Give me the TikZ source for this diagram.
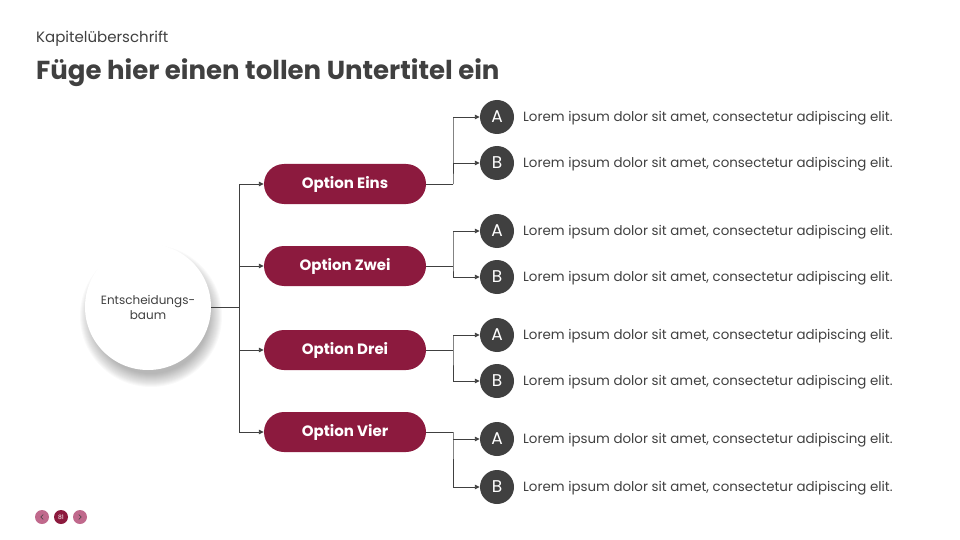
\documentclass[tikz,border=0pt]{standalone}
\usepackage{fontspec}
\setmainfont{Poppins}
\usetikzlibrary{arrows.meta}

\definecolor{weinrot}{HTML}{8C1A3E}
\definecolor{dunkel}{HTML}{404040}
\definecolor{rosa}{HTML}{C0698C}

\tikzset{
  option/.style={rounded corners=20pt, fill=weinrot, minimum width=162pt,
    minimum height=40pt, text=white, font=\fontsize{15}{18}\selectfont\bfseries},
  buchst/.style={circle, fill=dunkel, minimum size=34pt, inner sep=0pt,
    text=white, font=\fontsize{17}{20}\selectfont},
  lorem/.style={anchor=west, text=dunkel, inner sep=0pt, yshift=-1.5pt,
    font=\fontsize{13.4}{16}\selectfont},
  linie/.style={draw=dunkel, line width=0.9pt},
  ast/.style={linie, -{Triangle[length=5pt,width=4.5pt]}},
  knopf/.style={circle, minimum size=14pt, inner sep=0pt},
}

\begin{document}
\begin{tikzpicture}[x=1pt, y=-1pt]
\useasboundingbox (0,0) rectangle (960,540);

% Titel
\node[anchor=base west, inner sep=0pt, text=dunkel, font=\fontsize{15}{18}\selectfont]
  (kapitel) at (36,43) {Kapitelüberschrift};
\node[anchor=base west, inner sep=0pt, text=dunkel, font=\fontsize{26}{31}\selectfont\bfseries]
  (titel) at (36,80) {Füge hier einen tollen Untertitel ein};

% Schatten und Wurzel
\foreach \r in {71,70,...,58}
  \fill[black, opacity=0.022] (151,316) circle (\r);
\node[circle, fill=white, minimum size=126pt, inner sep=0pt, align=center,
  text=dunkel, font=\fontsize{12}{15}\selectfont] (wurzel) at (148,307)
  {Entscheidungs-\\baum};

\coordinate (stamm) at (239,307);
\draw[linie] (wurzel.east) -- (stamm);

\foreach \n/\txt/\y/\ya/\yb in {1/Eins/184/117/163, 2/Zwei/266/231/277,
                              3/Drei/350/335/381, 4/Vier/432/439/487}{
  \node[option] (opt\n) at (345,\y) {Option \txt};
  \node[buchst] (a\n) at (497,\ya) {A};
  \node[buchst] (b\n) at (497,\yb) {B};
  \node[lorem] (la\n) at (523,\ya) {Lorem ipsum dolor sit amet, consectetur adipiscing elit.};
  \node[lorem] (lb\n) at (523,\yb) {Lorem ipsum dolor sit amet, consectetur adipiscing elit.};
  \coordinate (knick\n) at (453,\y);
  \draw[linie] (opt\n.east) -- (knick\n);
  \draw[linie] (knick\n |- a\n) -- (knick\n) -- (knick\n |- b\n);
  \draw[ast] (knick\n |- a\n) -- (a\n.west);
  \draw[ast] (knick\n |- b\n) -- (b\n.west);
  \draw[ast] (stamm |- opt\n) -- (opt\n.west);
}
\draw[linie] (stamm |- opt1) -- (stamm |- opt4);

% Seitenleiste unten
\node[knopf, fill=rosa] (zurueck) at (42,517) {};
\node[knopf, fill=weinrot, text=white, font=\fontsize{6}{7}\selectfont] (seite) at (61,517) {81};
\node[knopf, fill=rosa] (weiter) at (80,517) {};
\draw[dunkel, line width=0.6pt] (43.2,514.5) -- (40.8,517) -- (43.2,519.5);
\draw[dunkel, line width=0.6pt] (78.8,514.5) -- (81.2,517) -- (78.8,519.5);
\end{tikzpicture}
\end{document}
